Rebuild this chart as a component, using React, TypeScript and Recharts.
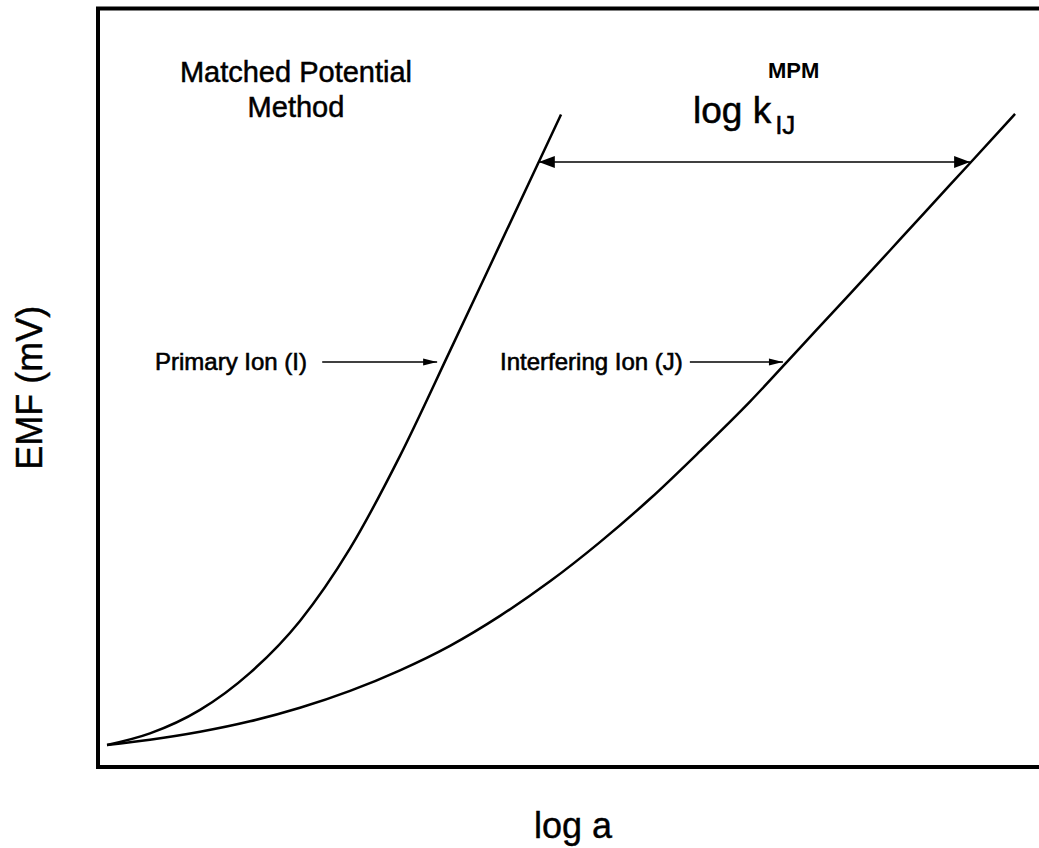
import React from 'react';
import { LineChart, Line, XAxis, YAxis, ReferenceArea, ReferenceDot } from 'recharts';

// Response curves: EMF vs log activity (arbitrary units, 0–10 and 0–100)
const primaryLogA = [0.095, 0.547, 1.074, 1.6, 2.126, 2.653, 3.179, 3.705, 4.232, 4.653, 4.874];
const primaryEmf = [2.9, 4.43, 7.53, 12.41, 19.26, 28.82, 41.02, 54.86, 68.9, 80.13, 86.03];

const interferingLogA = [
  0.095, 0.547, 1.074, 1.6, 2.126, 2.653, 3.179, 3.705, 4.232, 4.758,
  5.284, 5.811, 6.337, 6.863, 7.389, 7.916, 8.442, 8.968, 9.495, 9.653,
];
const interferingEmf = [
  2.9, 3.59, 4.64, 6.02, 7.81, 10.04, 12.75, 15.98, 19.93, 24.48,
  29.65, 35.36, 41.64, 48.18, 55.27, 62.38, 69.55, 76.74, 83.92, 86.1,
];

// Matched potential: the same EMF reached by both ions
const matchedEmf = 79.76;
const matchedLogA = [4.64, 9.18];

// Pointer arrows next to the curve names
const pointerEmf = 53.4;
const primaryPointerLogA = [2.36, 3.57];
const interferingPointerLogA = [6.23, 7.21];

const toPoints = (xs: number[], ys: number[]) => xs.map((x, i) => ({ logA: x, emf: ys[i] }));
const flat = (xs: number[], y: number) => xs.map((x) => ({ logA: x, emf: y }));

const primaryData = toPoints(primaryLogA, primaryEmf);
const interferingData = toPoints(interferingLogA, interferingEmf);
const matchedData = flat(matchedLogA, matchedEmf);
const primaryPointer = flat(primaryPointerLogA, pointerEmf);
const interferingPointer = flat(interferingPointerLogA, pointerEmf);

const FONT = '"Liberation Sans", Arial, Helvetica, sans-serif';

function arrowDot(heads: { start?: boolean; end?: boolean }, len: number, half: number) {
  return (p: any) => {
    const { cx, cy, index } = p;
    const atStart = index === 0 && heads.start;
    const atEnd = index === 1 && heads.end;
    if ((!atStart && !atEnd) || cx == null || cy == null) return <g key={`h${index}`} />;
    const dir = atStart ? -1 : 1;
    const bx = cx - dir * len;
    return <path key={`h${index}`} d={`M${cx},${cy}L${bx},${cy - half}L${bx},${cy + half}Z`} fill="#000" />;
  };
}

function textAt(
  content: string,
  size: number,
  anchor: 'start' | 'middle' | 'end',
  opts: { weight?: string | number; stroke?: number } = {}
) {
  const { weight = 'normal', stroke = 0.5 } = opts;
  return (p: any) => (
    <text
      x={p.cx}
      y={p.cy}
      fontSize={size}
      fontFamily={FONT}
      fontWeight={weight}
      textAnchor={anchor}
      fill="#000"
      stroke="#000"
      strokeWidth={stroke}
    >
      {content}
    </text>
  );
}

// "log k" with its "IJ" subscript, set as one text run
const selectivityLabel = (p: any) => (
  <text x={p.cx} y={p.cy} fontFamily={FONT} fill="#000" stroke="#000" strokeWidth={0.5}>
    <tspan fontSize={37}>log k</tspan>
    <tspan fontSize={26} dx={4} dy={11}>IJ</tspan>
  </text>
);

export default function App() {
  return (
    <div style={{ position: 'absolute', left: 0, top: 0, width: 1039, height: 848, overflow: 'hidden', background: '#fff' }}>
      <LineChart width={1048} height={848} margin={{ top: 8.5, right: 0, bottom: 0, left: 0 }}>
        <XAxis
          type="number"
          dataKey="logA"
          domain={[0, 10]}
          height={81}
          tick={false}
          tickLine={false}
          axisLine={false}
          label={{
            value: 'log a',
            position: 'insideBottom',
            offset: 10,
            fontSize: 36,
            fill: '#000',
            fontFamily: FONT,
            stroke: '#000',
            strokeWidth: 0.4,
          }}
        />
        <YAxis
          type="number"
          dataKey="emf"
          domain={[0, 100]}
          width={98}
          tick={false}
          tickLine={false}
          axisLine={false}
          label={{
            value: 'EMF (mV)',
            angle: -90,
            position: 'insideLeft',
            offset: 29,
            fontSize: 36,
            fill: '#000',
            fontFamily: FONT,
            stroke: '#000',
            strokeWidth: 0.4,
            style: { textAnchor: 'middle' },
          }}
        />
        <ReferenceArea x1={0} x2={10} y1={0} y2={100} fill="none" fillOpacity={0} stroke="#000" strokeWidth={4} />

        <Line data={primaryData} dataKey="emf" type="monotone" stroke="#000" strokeWidth={2.5} dot={false} activeDot={false} isAnimationActive={false} />
        <Line data={interferingData} dataKey="emf" type="monotone" stroke="#000" strokeWidth={2.5} dot={false} activeDot={false} isAnimationActive={false} />

        <Line data={matchedData} dataKey="emf" type="linear" stroke="#000" strokeWidth={1.5} dot={arrowDot({ start: true, end: true }, 16, 6)} activeDot={false} isAnimationActive={false} />
        <Line data={primaryPointer} dataKey="emf" type="linear" stroke="#000" strokeWidth={1.5} dot={arrowDot({ end: true }, 14, 3.5)} activeDot={false} isAnimationActive={false} />
        <Line data={interferingPointer} dataKey="emf" type="linear" stroke="#000" strokeWidth={1.5} dot={arrowDot({ end: true }, 14, 3.5)} activeDot={false} isAnimationActive={false} />

        <ReferenceDot x={2.084} y={90.3} r={1} shape={textAt('Matched Potential', 29, 'middle')} />
        <ReferenceDot x={2.084} y={85.7} r={1} shape={textAt('Method', 29, 'middle')} />
        <ReferenceDot x={6.263} y={84.9} r={1} shape={selectivityLabel} />
        <ReferenceDot x={7.053} y={90.84} r={1} shape={textAt('MPM', 22, 'start', { weight: 'bold', stroke: 0 })} />
        <ReferenceDot x={2.2} y={52.34} r={1} shape={textAt('Primary Ion (I)', 24, 'end', { stroke: 0.6 })} />
        <ReferenceDot x={4.232} y={52.34} r={1} shape={textAt('Interfering Ion (J)', 24, 'start', { stroke: 0.6 })} />
      </LineChart>
    </div>
  );
}
